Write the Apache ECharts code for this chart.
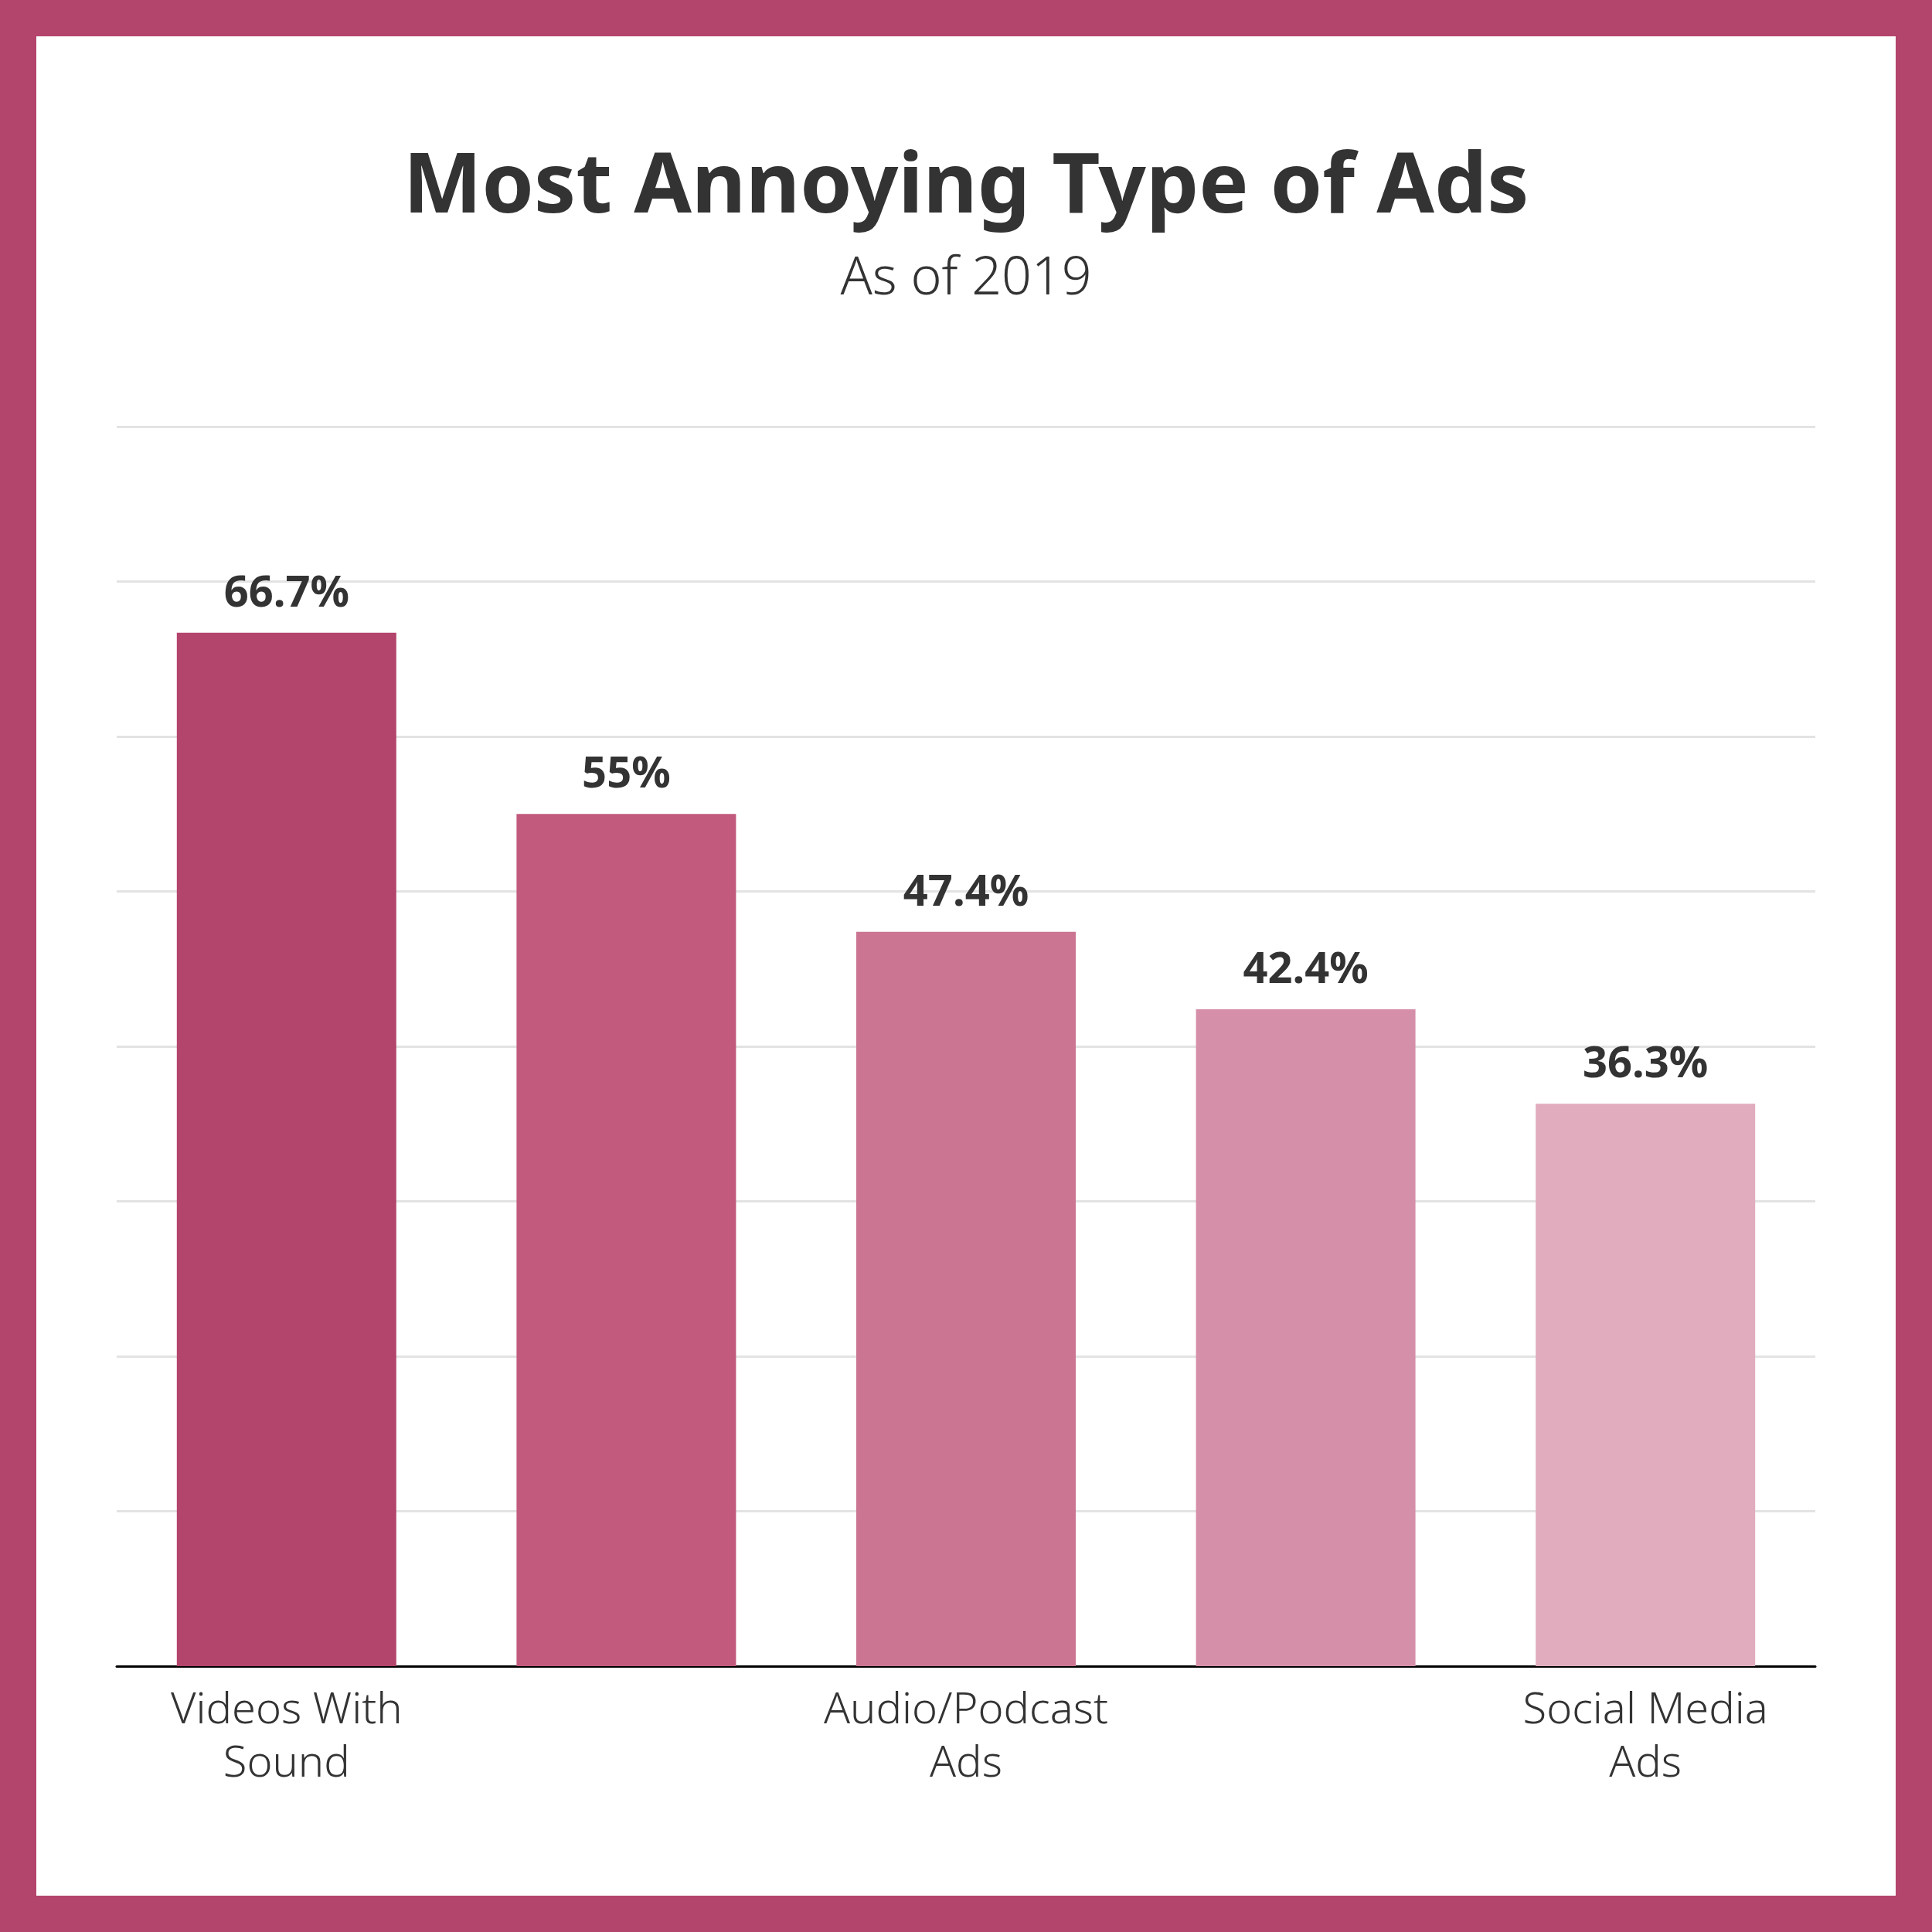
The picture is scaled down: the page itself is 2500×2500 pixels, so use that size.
<!DOCTYPE html>
<html>
<head>
<meta charset="utf-8">
<script src="https://cdn.jsdelivr.net/npm/echarts@6/dist/echarts.min.js"></script>
<style>body{margin:0}#main{width:2500px;height:2500px}</style>
</head>
<body>
<div id="main"></div>
<script>
var categories = ['Videos With\nSound', 'Videos With\nNo Sound', 'Audio/Podcast\nAds', 'Search Driven\nAds', 'Social Media\nAds'];
var values = [66.7, 55, 47.4, 42.4, 36.3];
var barColors = ['#B3446B', '#C25A7D', '#CB7592', '#D68FA9', '#E0ACBE'];

var myChart = echarts.init(document.getElementById('main'));

var option = {
    backgroundColor: '#fff',
    title: {
        text: 'Most Annoying Type of Ads',
        subtext: 'As of 2019',
        left: 'center',
        top: 185,
        itemGap: 30,
        textStyle: { fontFamily: 'Noto Sans', fontWeight: 'bold', fontSize: 108, color: '#333' },
        subtextStyle: { fontFamily: 'Noto Sans', fontWeight: 300, fontSize: 68, color: '#333' }
    },
    graphic: [{
        type: 'rect',
        shape: { x: 23.5, y: 23.5, width: 2453, height: 2453 },
        style: { fill: null, stroke: '#B3446B', lineWidth: 47 }
    }],
    grid: { left: 151, right: 151, top: 552, bottom: 344 },
    xAxis: {
        type: 'category',
        data: categories,
        axisLine: { lineStyle: { color: '#000', width: 3 } },
        axisTick: { alignWithLabel: true, length: 22, lineStyle: { color: '#000', width: 3 } },
        axisLabel: { fontFamily: 'Noto Sans', fontWeight: 300, fontSize: 56, lineHeight: 69, color: '#333', margin: 24 }
    },
    yAxis: {
        type: 'value',
        min: 0, max: 80, interval: 10,
        axisLabel: { show: false },
        splitLine: { lineStyle: { color: '#e3e3e3', width: 3 } }
    },
    series: [{
        type: 'bar',
        barWidth: 284,
        data: values.map(function (v, i) { return { value: v, itemStyle: { color: barColors[i] } }; }),
        label: {
            show: true, position: 'top', distance: 22,
            formatter: '{c}%',
            fontFamily: 'Noto Sans', fontWeight: 'bold', fontSize: 56, color: '#333'
        }
    }]
};
myChart.setOption(option);
</script>
</body>
</html>
